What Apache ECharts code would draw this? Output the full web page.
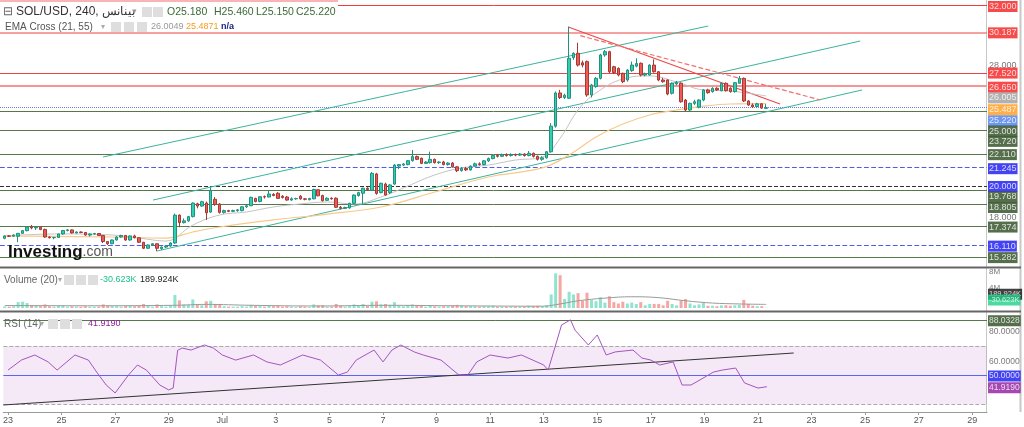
<!DOCTYPE html>
<html><head><meta charset="utf-8">
<script src="https://cdn.jsdelivr.net/npm/echarts@6/dist/echarts.min.js"></script>
<style>html,body{margin:0;padding:0;background:#fff;}#c{width:1024px;height:427px;}</style>
</head><body><div id="c"></div>
<script>
// ---------- DATA ----------
const dayLabels = ['23','25','27','29','Jul','3','5','7','9','11','13','15','17','19','21','23','25','27','29'];
const candlesPerLabel = 12; // 240-min candles, one label every 2 days
// [open, close, low, high] per 4h candle starting 23 Jun 00:00
const candles = [
[16.56,16.72,16.50,16.76],[16.72,16.70,16.65,16.78],[16.70,16.78,16.66,16.82],[16.70,16.89,16.30,16.92],[16.89,17.07,16.85,17.10],
[17.07,17.30,17.02,17.35],[17.30,17.25,17.16,17.44],[17.25,17.30,17.11,17.38],[17.30,17.15,17.10,17.33],[17.15,16.65,16.60,17.20],
[16.65,16.60,16.55,16.70],[16.60,16.62,16.50,16.66],[16.62,16.85,16.58,16.88],[16.85,17.08,16.80,17.12],[17.08,17.12,17.02,17.18],
[17.12,16.92,16.88,17.15],[16.92,16.98,16.88,17.02],[16.98,16.95,16.90,17.02],[16.95,16.78,16.74,16.98],[16.78,16.85,16.68,16.88],
[16.85,16.88,16.80,16.92],[16.88,16.75,16.72,16.90],[16.75,16.35,16.25,16.78],[16.35,16.20,16.12,16.38],[16.20,16.45,16.18,16.48],
[16.45,16.65,16.42,16.70],[16.65,16.75,16.60,16.80],[16.75,16.45,16.40,16.78],[16.45,16.72,16.40,16.76],[16.72,16.60,16.55,16.80],
[16.60,16.30,16.25,16.62],[16.30,15.90,15.85,16.32],[15.90,16.12,15.88,16.15],[16.12,16.20,16.05,16.25],[16.20,15.90,15.70,16.22],
[15.88,15.98,15.80,16.02],[15.98,16.05,15.92,16.10],[16.05,16.25,16.00,16.30],[16.25,18.10,16.20,18.20],[18.10,17.60,17.30,18.15],
[17.60,17.72,17.55,17.88],[17.72,18.00,17.65,18.05],[18.00,18.90,17.95,18.95],[18.85,18.70,18.55,18.92],[18.70,18.99,18.66,19.05],
[18.90,18.25,17.78,19.00],[18.30,19.75,18.25,19.94],[19.15,18.80,18.72,19.30],[18.84,18.28,18.20,18.90],[18.28,18.40,18.20,18.46],
[18.40,18.35,18.30,18.45],[18.35,18.40,18.30,18.46],[18.40,18.45,18.32,18.50],[18.40,18.65,18.35,18.70],[18.65,18.72,18.58,18.78],
[18.72,19.28,18.70,19.32],[19.21,19.00,18.95,19.25],[19.00,19.32,18.95,19.35],[19.32,19.30,19.20,19.40],[19.30,19.50,19.28,19.72],
[19.48,19.40,19.35,19.55],[19.55,19.21,19.18,19.62],[19.35,19.26,19.20,19.43],[19.30,19.10,19.05,19.37],[19.10,19.18,19.05,19.28],
[19.18,19.20,19.12,19.25],[19.35,19.18,19.12,19.43],[19.18,19.15,19.08,19.23],[19.12,19.20,19.08,19.25],[19.18,19.80,19.15,19.85],
[19.78,19.38,19.35,19.82],[19.40,19.06,19.00,19.45],[19.08,19.22,19.05,19.28],[19.22,19.18,19.12,19.28],[19.22,18.62,18.58,19.28],
[18.62,18.55,18.48,18.70],[18.55,18.60,18.50,18.66],[18.58,18.88,18.52,18.92],[18.88,19.43,18.84,19.48],[19.40,19.59,19.32,19.65],
[19.55,19.88,18.84,19.92],[19.88,19.80,19.72,19.95],[19.75,20.87,19.70,20.95],[20.83,19.54,19.45,20.90],[19.59,20.21,19.55,20.25],
[20.16,19.43,19.40,20.25],[19.59,20.10,19.50,20.15],[20.16,21.42,20.10,21.48],[21.35,21.45,21.15,21.48],[21.42,21.49,21.36,21.55],
[21.45,21.71,21.40,21.75],[21.71,21.98,21.65,22.42],[21.98,21.80,21.75,22.05],[21.87,21.53,21.48,21.92],[21.53,21.62,21.50,21.68],
[21.58,21.80,21.52,22.31],[21.80,21.58,21.52,21.85],[21.58,21.62,21.50,21.68],[21.62,21.45,21.40,21.70],[21.45,21.55,21.38,21.60],
[21.55,21.30,21.25,21.62],[21.30,21.05,20.95,21.35],[21.05,21.20,20.98,21.28],[21.20,21.10,21.02,21.30],[21.10,21.35,21.05,21.40],
[21.35,21.50,21.30,21.58],[21.50,21.45,21.38,21.60],[21.45,21.70,21.40,21.75],[21.70,21.85,21.62,21.92],[21.85,22.05,21.80,22.12],
[22.05,22.00,21.92,22.15],[22.00,22.10,21.95,22.18],[22.10,22.05,21.98,22.20],[22.05,22.12,21.98,22.20],[22.12,22.08,22.00,22.18],
[22.08,22.15,22.02,22.22],[22.15,22.05,21.98,22.20],[22.05,22.20,22.00,22.35],[22.20,22.00,21.92,22.25],[22.00,21.80,21.72,22.05],
[21.80,21.90,21.70,22.00],[21.90,22.30,21.85,22.35],[22.30,24.00,22.25,24.20],[24.00,26.20,23.90,26.30],[26.20,25.90,25.80,26.40],
[25.90,26.05,25.80,26.15],[25.85,28.50,25.80,30.60],[28.55,28.83,28.40,28.90],[28.83,28.05,27.95,29.53],[28.20,28.05,27.90,28.35],
[28.28,26.07,25.95,28.35],[26.07,26.73,25.90,26.80],[26.62,27.17,26.55,27.25],[27.17,28.72,27.10,28.80],[28.72,28.94,28.60,29.05],
[28.94,27.61,27.50,29.00],[27.94,27.55,27.45,28.00],[27.83,27.39,27.30,27.90],[27.50,26.95,26.85,27.55],[27.06,27.72,26.95,27.78],
[27.68,28.05,27.60,28.28],[27.98,28.15,27.90,28.50],[28.17,27.39,27.30,28.22],[27.39,27.48,27.30,27.55],[27.39,28.05,27.35,28.10],
[28.05,27.61,27.55,28.43],[27.61,27.06,26.98,27.65],[27.06,26.95,26.88,27.20],[27.06,26.13,26.05,27.10],[26.18,26.84,26.10,26.90],
[26.80,26.90,26.70,27.00],[26.85,25.62,25.55,26.90],[25.73,25.07,25.00,25.80],[25.07,25.51,25.00,25.56],[25.51,25.62,25.40,25.75],
[25.25,25.73,25.18,25.78],[25.73,26.40,25.65,26.45],[26.40,26.22,26.15,26.48],[26.29,26.51,26.22,26.58],[26.51,26.40,26.35,26.58],
[26.35,26.84,26.30,26.90],[26.84,26.35,26.30,26.90],[26.51,26.29,26.22,26.58],[26.29,26.88,26.22,26.92],[26.84,27.17,26.80,27.33],
[27.17,25.67,25.60,27.22],[25.67,25.40,25.35,25.72],[25.40,25.28,25.20,25.51],[25.30,25.48,25.25,25.55],[25.48,25.20,25.15,25.52],
[25.18,25.22,25.15,25.46]
];
// volume per candle, millions
const volumes = [
0.35,0.3,0.4,1.3,1.4,1.1,0.6,0.5,0.4,0.8, 0.4,0.3,0.5,0.5,0.3,0.4,0.3,0.3,0.4,0.3,
0.3,0.3,0.8,0.5,0.4,0.4,0.3,0.5,0.5,0.4, 0.5,0.9,0.5,0.3,0.8,0.4,0.3,0.5,2.9,1.7,
0.8,0.7,1.9,0.7,0.6,1.5,1.6,0.9,0.9,0.4, 0.3,0.3,0.3,0.4,0.3,0.7,0.5,0.5,0.3,0.5,
0.4,0.5,0.3,0.4,0.3,0.2,0.4,0.3,0.2,0.8, 0.6,0.6,0.3,0.3,0.9,0.5,0.3,0.4,0.8,0.6,
0.9,0.5,1.4,1.5,0.8,0.9,0.7,1.3,0.6,0.4, 0.5,0.8,0.5,0.5,0.3,0.6,0.4,0.3,0.4,0.4,
0.6,0.7,0.5,0.4,0.4,0.4,0.3,0.4,0.4,0.5, 0.3,0.3,0.3,0.3,0.3,0.3,0.3,0.5,0.4,0.5,
0.4,0.6,3.0,7.7,7.3,2.0,3.6,3.0,3.3,1.6, 3.4,1.8,1.5,2.4,1.2,2.6,1.3,1.0,1.4,1.0,
1.2,0.9,1.3,0.6,0.9,0.9,0.9,0.6,1.6,0.9, 0.6,1.7,2.0,1.0,0.6,0.8,1.1,0.5,0.5,0.4,
0.6,0.6,0.5,0.6,0.7,1.8,0.9,0.5,0.4,0.4, 0.05
];
// volume MA(20), read at [candle, millions]
const volumeMA = [[0,0.55],[20,0.5],[38,0.6],[45,0.8],[55,0.6],[70,0.45],[85,0.6],[100,0.5],[120,0.4],[124,0.9],[128,1.6],[134,2.2],[140,2.5],[146,2.3],[152,1.6],[158,1.1],[164,0.9],[170,0.8]];
// EMA values [candle, price]
const ema21 = [[0,16.72],[12,16.85],[24,16.78],[30,16.58],[36,16.38],[42,17.44],[48,18.11],[54,18.31],[60,18.64],[66,18.84],[72,18.97],[78,18.84],[84,19.30],[90,20.03],[96,20.76],[102,21.23],[108,21.42],[114,21.75],[120,21.95],[124,23.2],[128,25.07],[132,26.2],[138,27.13],[144,27.33],[150,26.93],[156,26.40],[162,26.33],[170,26.0]];
const ema55 = [[0,16.72],[24,16.65],[36,16.58],[42,16.98],[48,17.31],[60,17.78],[72,18.17],[84,18.64],[96,19.63],[108,20.63],[120,21.23],[126,22.09],[132,23.28],[138,24.14],[144,24.74],[150,25.07],[156,25.33],[162,25.47],[170,25.49]];
// RSI(14) [candle, value]
const rsi = [[0,53.4],[3,60.3],[6,63.8],[9,59.0],[11,53.4],[15,63.8],[18,60.3],[20,51.4],[22,43.1],[24,37.6],[27,50],[29,56.9],[31,53.4],[34,43.1],[36,39.7],[37,41],[38,67],[39,68.6],[41,67.2],[44,70.7],[46,68.6],[48,63.8],[51,60.3],[55,63.8],[58,59.0],[61,56.9],[66,63.8],[70,60.3],[74,50],[76,52],[78,60.3],[82,67.2],[84,59],[86,67.2],[88,70.7],[91,65.9],[93,63.8],[97,60.3],[101,50],[103,50],[105,59],[108,63.8],[112,61.7],[115,63.8],[120,56.9],[121,53.4],[123,74.1],[124,84.5],[126,88.03],[127,81],[130,70.7],[132,77.6],[134,63.8],[136,65.9],[140,67.2],[142,61.7],[144,60.3],[146,56.9],[149,59],[151,43.1],[153,43.1],[155,46.6],[158,52],[160,53.4],[163,54.8],[165,44.5],[168,41],[170,41.919]];
// horizontal price levels
const redLevels = [32.000, 30.187, 27.520, 26.650];
const greenLevels = [25.000, 23.720, 22.110, 19.768, 18.805, 17.374, 15.282];
const blueDashLevels = [21.245, 16.110];
const blackDashLevels = [20.000];
const lastPrice = 25.220;
const emaLast = [26.005, 25.487];
const priceTicks = [28.000, 18.000];
// trend lines [[candle, price],[candle, price]]
const channelLines = [[[21.95,21.954],[157.06,30.641]],[[33.12,19.10],[191.0,29.646]],[[34.0,15.72],[191.4,26.397]]];
const redSolidLine = [[125.8,30.575],[173.1,25.47]];
const redDashLine = [[128.5,30.004],[182.1,25.734]];
const rsiTrend = [[-1.05,29.31],[176.0,65.17]];
const rsiLevels = {upper:70, lower:30, mid:50, max:88.0328};
const ohlcText = ['O25.180','H25.460','L25.150','C25.220'];

// ---------- LAYOUT ----------
const XMIN=-1.05, XMAX=219.3;
const UP='#2fcfb3', DOWN='#ef5a55', UPB='#23907d', DOWNB='#a23a36';
const FN="Arial,'Liberation Sans',sans-serif";
const tickPos = dayLabels.map((_,k)=>k*candlesPerLabel);

function tag(v, text, bg, fg, dy, fs){
  return {value:[XMAX, v], label:{show:true, position:'right', distance:1, formatter:text,
    backgroundColor:bg||'transparent', color:fg||'#fff', fontSize:fs||9, fontFamily:'Arial', lineHeight:10,
    padding:[1,1,0,1], offset:[0, dy||0]}};
}
function hline(v, color, type, width){ return {yAxis:v, lineStyle:{color, type, width:width||1}}; }
function seg(p, color, type, width){ return [{coord:p[0], lineStyle:{color, type, width:width||1}},{coord:p[1]}]; }

const chart = echarts.init(document.getElementById('c'), null, {renderer:'canvas'});
const candleData = candles.map((c,i)=>[i, c[0], c[1], c[2], c[3]]);
const volData = volumes.map((v,i)=>({value:[i,v], itemStyle:{color: candles[i][1]>=candles[i][0] ? '#8fe3cf' : '#f5a7a3'}}));

const mainLevels = [
  hline(redLevels[0],'#f23b3b','solid',1), hline(redLevels[1],'#f38080','solid',1.5),
  hline(redLevels[2],'#e84545','solid',1), hline(redLevels[3],'#f59595','solid',2),
  ...greenLevels.map(v=>hline(v,'#57764a','solid',1)),
  ...blueDashLevels.map(v=>hline(v,'#4d5cf0','dashed',1.2)),
  ...blackDashLevels.map(v=>hline(v,'#333','dashed',1)),
  hline(lastPrice,'#6a7cf0','dotted',1)
];
const trendSegs = [
  ...channelLines.map(p=>seg(p,'#3db39b','solid',1)),
  seg(redSolidLine,'#f04848','solid',1.2),
  seg(redDashLine,'#f07070','dashed',1.2)
];

const mainTags = [
  tag(32.000,'32.000','#f51d1d','#fff',1), tag(30.187,'30.187','#f51d1d','#fff',0),
  tag(priceTicks[0],'28.000','transparent','#555',0),
  tag(27.520,'27.520','#f51d1d','#fff',0), tag(26.650,'26.650','#f51d1d','#fff',1),
  tag(emaLast[0],'26.005','#9e9e9e','#fff',2), tag(emaLast[1],'25.487','#ff9a1a','#fff',6),
  tag(lastPrice,'25.220','#4a7de8','#fff',13), tag(25.000,'25.000','#2b4a1f','#fff',20),
  tag(23.720,'23.720','#2b4a1f','#fff',11), tag(22.110,'22.110','#2b4a1f','#fff',0),
  tag(21.245,'21.245','#1414f0','#fff',1), tag(20.000,'20.000','#1414f0','#fff',0),
  tag(19.768,'19.768','#2b4a1f','#fff',7), tag(18.805,'18.805','#2b4a1f','#fff',3),
  tag(priceTicks[1],'18.000','transparent','#555',1),
  tag(17.374,'17.374','#2b4a1f','#fff',1), tag(16.110,'16.110','#1414f0','#fff',1),
  tag(15.282,'15.282','#2b4a1f','#fff',0)
];
const volTags = [
  tag(8,'8M','transparent','#555',0, 8), tag(4,'4M','transparent','#555',-2, 8),
  tag(0.19,'189.924K','#111','#fff',-13, 7.5), tag(0,'-30.623K','#1fd18a','#fff',-8, 7.5)
];
const rsiTags = [
  tag(rsiLevels.max,'88.0328','#2b4a1f','#fff',1, 8.5), tag(80,'80.0000','transparent','#555',0, 8.5),
  tag(60,'60.0000','transparent','#555',1, 8.5), tag(rsiLevels.mid,'50.0000','#1414f0','#fff',1, 8.5),
  tag(41.919,'41.9190','#8e1a9e','#fff',1, 8.5)
];

const xAx = (g, show) => ({type:'value', gridIndex:g, min:XMIN, max:XMAX, splitLine:{show:false},
  axisLine:{show:show, lineStyle:{color:'#999'}},
  axisTick:{show:show, customValues:tickPos, length:3, lineStyle:{color:'#999'}},
  axisLabel:{show:show, customValues:tickPos, formatter:v=>dayLabels[Math.round(v/candlesPerLabel)]||'',
    fontSize:9, color:'#555', fontFamily:FN, margin:4}});
const yAx = (g, min, max) => ({type:'value', gridIndex:g, min, max, position:'right', show:false, splitLine:{show:false}});
const tagSeries = (g, data) => ({type:'scatter', xAxisIndex:g, yAxisIndex:g, data, symbolSize:0, clip:false, silent:true, z:20});

function legendText(x,y,text,color,size,weight){ return {type:'text', x, y, z:100, style:{text, fill:color, fontSize:size, fontFamily:FN, fontWeight:weight||'normal', textVerticalAlign:'middle'}}; }
function iconBox(x,y){ return {type:'rect', z:100, shape:{x, y, width:10, height:10}, style:{fill:'#dedede'}}; }

const option = {
  animation:false,
  backgroundColor:'#fff',
  grid:[
    {left:0, right:37, top:0, height:268},
    {left:0, right:37, top:268, height:40},
    {left:0, right:37, top:312, height:100}
  ],
  xAxis:[xAx(0,false), xAx(1,false), xAx(2,true)],
  yAxis:[yAx(0,14.593,32.365), yAx(1,0,8.89), yAx(2,24.48,93.45)],
  series:[
    {type:'line', xAxisIndex:0, yAxisIndex:0, data:ema21, smooth:0.4, showSymbol:false, lineStyle:{color:'#c4c4c4', width:1}, z:2, silent:true},
    {type:'line', xAxisIndex:0, yAxisIndex:0, data:ema55, smooth:0.4, showSymbol:false, lineStyle:{color:'#f8c98c', width:1.2}, z:2, silent:true},
    {type:'candlestick', xAxisIndex:0, yAxisIndex:0, data:candleData, encode:{x:0, y:[1,2,3,4]}, barWidth:3, z:5,
      itemStyle:{color:UP, color0:DOWN, borderColor:UPB, borderColor0:DOWNB, borderWidth:1},
      markLine:{silent:true, symbol:'none', label:{show:false}, animation:false, z:1, data:[...mainLevels, ...trendSegs]}},
    tagSeries(0, mainTags),
    {type:'bar', xAxisIndex:1, yAxisIndex:1, data:volData, barWidth:3, silent:true},
    {type:'line', xAxisIndex:1, yAxisIndex:1, data:volumeMA, smooth:0.4, showSymbol:false, lineStyle:{color:'#9a9a9a', width:1}, silent:true},
    tagSeries(1, volTags),
    {type:'line', xAxisIndex:2, yAxisIndex:2, data:rsi, showSymbol:false, lineStyle:{color:'#a455c0', width:1}, silent:true, z:5,
      markArea:{silent:true, itemStyle:{color:'rgba(156,39,176,0.10)'}, data:[[{yAxis:rsiLevels.lower},{yAxis:rsiLevels.upper}]]},
      markLine:{silent:true, symbol:'none', label:{show:false}, animation:false, data:[
        hline(rsiLevels.upper,'#aaa','dashed',1), hline(rsiLevels.lower,'#aaa','dashed',1),
        hline(rsiLevels.mid,'#5a64f5','solid',1), hline(rsiLevels.max,'#57764a','solid',1),
        seg(rsiTrend,'#333','solid',1)]}},
    tagSeries(2, rsiTags)
  ],
  graphic:[
    {type:'rect', z:15, shape:{x:0,y:266.5,width:1021,height:2}, style:{fill:'#666'}},
    {type:'rect', z:15, shape:{x:0,y:310.5,width:1021,height:2}, style:{fill:'#666'}},
    {type:'line', z:1, shape:{x1:986.5,y1:0,x2:986.5,y2:412}, style:{stroke:'#c8c8c8', lineWidth:1}},
    {type:'line', z:1, shape:{x1:1020.5,y1:0,x2:1020.5,y2:412}, style:{stroke:'#c8c8c8', lineWidth:2}},
    // legend row 1
    {type:'rect', z:99, shape:{x:0,y:2.5,width:338,height:17}, style:{fill:'#fff'}},
    {type:'line', z:99, shape:{x1:0,y1:1,x2:338,y2:1}, style:{stroke:'#f26a6a', lineWidth:1}},
    legendText(3,12,'⊟','#666',12),
    legendText(16,12,'SOL/USD, 240, بينانس','#333',12),
    legendText(132,12,'▾','#999',9),
    iconBox(142,7), iconBox(153,7),
    legendText(167,12,ohlcText[0],'#3a6b35',10.5),
    legendText(214,12,ohlcText[1],'#3a6b35',10.5),
    legendText(256,12,ohlcText[2],'#3a6b35',10.5),
    legendText(296,12,ohlcText[3],'#3a6b35',10.5),
    // legend row 2
    legendText(5,27,'EMA Cross (21, 55)','#555',10),
    legendText(101,27,'▾','#aaa',8),
    iconBox(111,22), iconBox(124,22), iconBox(137,22),
    legendText(151,27,'26.0049','#999',9),
    legendText(186,27,'25.4871','#f59a1a',9),
    legendText(221,27,'n/a','#1a237e',9,'bold'),
    // volume legend
    legendText(4,280,'Volume (20)','#666',10),
    legendText(58,280,'▾','#aaa',8),
    iconBox(64,275), iconBox(76,275), iconBox(88,275),
    legendText(100,280,'-30.623K','#1fc28a',9),
    legendText(140,280,'189.924K','#222',9),
    // rsi legend
    legendText(4,324,'RSI (14)','#666',10),
    legendText(40,324,'▾','#aaa',8),
    iconBox(48,319), iconBox(60,319), iconBox(72,319),
    legendText(88,324,'41.9190','#8e1a9e',9),
    // watermark
    {type:'text', x:8, y:252, z:60, style:{rich:{a:{fontSize:17,fontWeight:'bold',fill:'#111',fontFamily:'Arial'},b:{fontSize:14,fill:'#555',fontFamily:'Arial'}}, text:'{a|Investing}{b|.com}', textVerticalAlign:'middle'}}
  ]
};
chart.setOption(option);
</script></body></html>
